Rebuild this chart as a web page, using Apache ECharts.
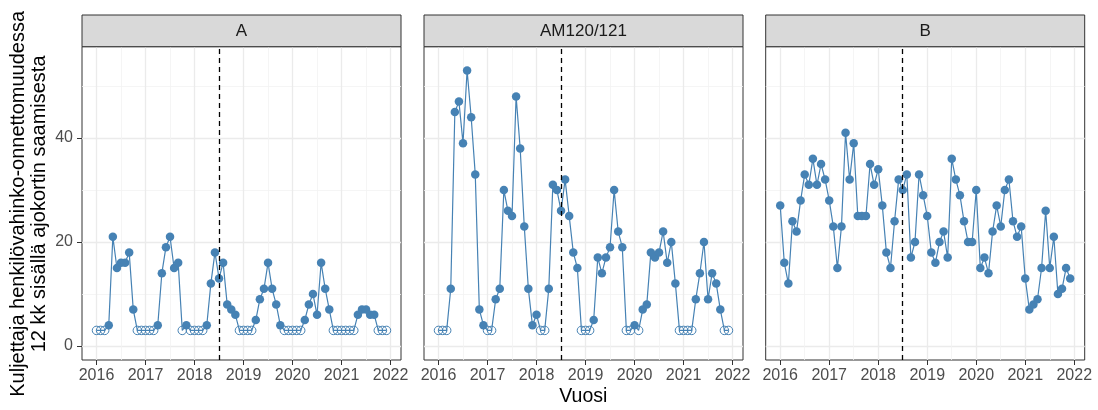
<!DOCTYPE html>
<html><head><meta charset="utf-8">
<script src="https://cdn.jsdelivr.net/npm/echarts@6/dist/echarts.min.js"></script>
<style>html,body{margin:0;padding:0;background:#fff}#c{width:1098px;height:410px}</style>
</head><body><div id="c"></div>
<script>
// ---- data ----
const panels = ['A', 'AM120/121', 'B'];
const years = [2016, 2017, 2018, 2019, 2020, 2021];
const monthsPerYear = 12;
const valuesA = [
  3,3,3,4,21,15,16,16,18,7,3,3,
  3,3,3,4,14,19,21,15,16,3,4,3,
  3,3,3,4,12,18,13,16,8,7,6,3,
  3,3,3,5,9,11,16,11,8,4,3,3,
  3,3,3,5,8,10,6,16,11,7,3,3,
  3,3,3,3,6,7,7,6,6,3,3,3
];
const valuesAM = [
  3,3,3,11,45,47,39,53,44,33,7,4,
  3,3,9,11,30,26,25,48,38,23,11,4,
  6,3,3,11,31,30,26,32,25,18,15,3,
  3,3,5,17,14,17,19,30,22,19,3,3,
  4,3,7,8,18,17,18,22,16,20,12,3,
  3,3,3,9,14,20,9,14,12,7,3,3
];
const valuesB = [
  27,16,12,24,22,28,33,31,36,31,35,32,
  28,23,15,23,41,32,39,25,25,25,35,31,
  34,27,18,15,24,32,30,33,17,20,33,29,
  25,18,16,20,22,17,36,32,29,24,20,20,
  30,15,17,14,22,27,23,30,32,24,21,23,
  13,7,8,9,15,26,15,21,10,11,15,13
];
const suppressedValue = 3;       // shown as hollow points
const cutoff = 2018.5;           // dashed reference line
const xTicks = [2016, 2017, 2018, 2019, 2020, 2021, 2022];
const xMinor = [2016.5, 2017.5, 2018.5, 2019.5, 2020.5, 2021.5];
const yTicks = [0, 20, 40];
const yMinor = [10, 30, 50];
const xTitle = 'Vuosi';
const yTitle = 'Kuljettaja henkilövahinko-onnettomuudessa\n12 kk sisällä ajokortin saamisesta';

// ---- layout ----
const X_MIN = 2015.704, X_MAX = 2022.213;
const Y_MIN = -2.69, Y_MAX = 57.56;
const lefts = [82, 424, 765.7];
const PW = 319, PTOP = 46.7, PH = 313.3, STRIP_TOP = 15;
const BLUE = '#4682B4';
const FONT = 'Liberation Sans, Arial, sans-serif';

const allValues = [valuesA, valuesAM, valuesB];
const xs = [];
years.forEach(y => { for (let m = 0; m < monthsPerYear; m++) xs.push(y + m / monthsPerYear); });

const grid = [], xAxis = [], yAxis = [], series = [], graphic = [];
panels.forEach((p, i) => {
  grid.push({left: lefts[i], top: PTOP, width: PW, height: PH, show: true,
    backgroundColor: '#fff', borderColor: '#333333', borderWidth: 1});
  // major x
  xAxis.push({type: 'value', gridIndex: i, min: X_MIN, max: X_MAX, position: 'bottom',
    axisLine: {show: false, onZero: false},
    axisTick: {show: true, length: 5, lineStyle: {color: '#333333', width: 1}, customValues: xTicks},
    axisLabel: {show: true, customValues: xTicks, color: '#4d4d4d', fontSize: 16, fontFamily: FONT, margin: 8,
      formatter: v => String(v)},
    splitLine: {show: true, lineStyle: {color: '#ebebeb', width: 1.3}}});
  // minor x
  xAxis.push({type: 'value', gridIndex: i, min: X_MIN, max: X_MAX, position: 'top',
    axisLine: {show: false, onZero: false}, axisTick: {show: false, customValues: xMinor},
    axisLabel: {show: false, customValues: xMinor},
    splitLine: {show: true, lineStyle: {color: '#f2f2f2', width: 0.8}}});
  yAxis.push({type: 'value', gridIndex: i, min: Y_MIN, max: Y_MAX, position: 'left',
    axisLine: {show: false, onZero: false},
    axisTick: {show: i === 0, length: 5, lineStyle: {color: '#333333', width: 1}, customValues: yTicks},
    axisLabel: {show: i === 0, customValues: yTicks, color: '#4d4d4d', fontSize: 16, fontFamily: FONT, margin: 9,
      formatter: v => String(v)},
    splitLine: {show: true, lineStyle: {color: '#ebebeb', width: 1.3}}});
  yAxis.push({type: 'value', gridIndex: i, min: Y_MIN, max: Y_MAX, position: 'right',
    axisLine: {show: false, onZero: false}, axisTick: {show: false, customValues: yMinor},
    axisLabel: {show: false, customValues: yMinor},
    splitLine: {show: true, lineStyle: {color: '#f2f2f2', width: 0.8}}});
  const data = allValues[i].map((v, k) => {
    if (v === suppressedValue) {
      return {value: [xs[k], v], itemStyle: {color: 'rgba(255,255,255,0)', borderColor: BLUE, borderWidth: 1}};
    }
    return {value: [xs[k], v]};
  });
  series.push({type: 'line', xAxisIndex: 2 * i, yAxisIndex: 2 * i, data: data,
    symbol: 'circle', symbolSize: 8.5, showSymbol: true,
    lineStyle: {color: BLUE, width: 1.2}, itemStyle: {color: BLUE},
    z: 3,
    markLine: {silent: true, symbol: 'none', label: {show: false}, animation: false,
      lineStyle: {color: '#000', type: [5, 4], width: 1.3},
      data: [{xAxis: cutoff}]}});
  graphic.push({type: 'rect', z: 10, shape: {x: lefts[i], y: STRIP_TOP, width: PW, height: PTOP - STRIP_TOP},
    style: {fill: '#d9d9d9', stroke: '#333333', lineWidth: 1}});
  graphic.push({type: 'text', z: 11, x: lefts[i] + PW / 2, y: (STRIP_TOP + PTOP) / 2,
    style: {text: p, fill: '#1a1a1a', fontSize: 17, fontFamily: FONT, align: 'center', verticalAlign: 'middle'}});
});
graphic.push({type: 'text', x: (lefts[0] + lefts[2] + PW) / 2, y: 397,
  style: {text: xTitle, fill: '#000', fontSize: 19.5, fontFamily: FONT, align: 'center', verticalAlign: 'middle'}});
graphic.push({type: 'text', x: 29, y: PTOP + PH / 2 + 0.5, rotation: Math.PI / 2,
  style: {text: yTitle, fill: '#000', fontSize: 20, lineHeight: 21, fontFamily: FONT, align: 'center', verticalAlign: 'middle'}});

const chart = echarts.init(document.getElementById('c'), null, {renderer: 'canvas'});
chart.setOption({animation: false, backgroundColor: '#fff', grid, xAxis, yAxis, series, graphic});
</script></body></html>
